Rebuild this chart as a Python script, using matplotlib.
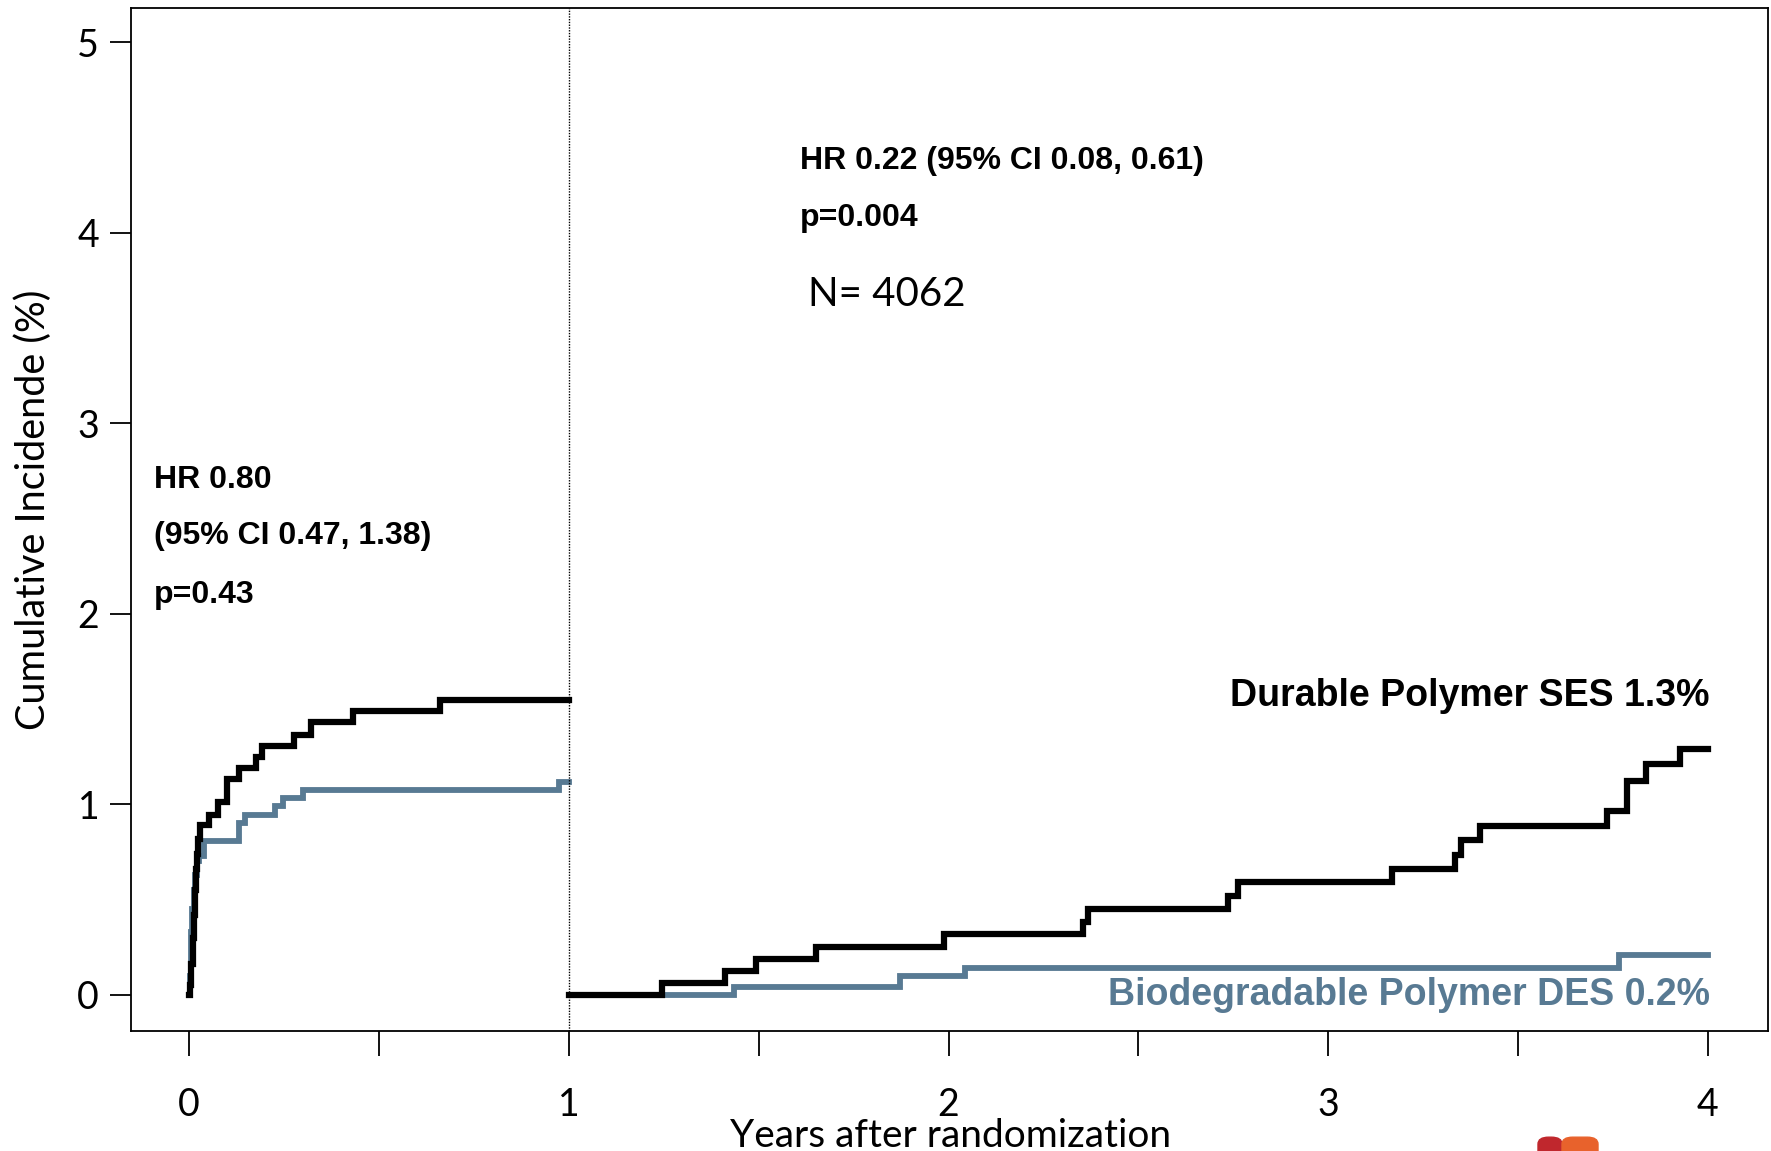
import matplotlib
matplotlib.use("Agg")
import matplotlib.pyplot as plt
from matplotlib.patches import FancyBboxPatch

# durable polymer SES (black) - first year
dp1_t = [0.0, 0.003, 0.006, 0.009, 0.012, 0.015, 0.018, 0.021, 0.024, 0.029,
         0.051, 0.077, 0.099, 0.130, 0.176, 0.193, 0.277, 0.322, 0.431, 0.661, 1.0]
dp1_y = [0.0, 0.05, 0.16, 0.30, 0.42, 0.55, 0.66, 0.74, 0.82, 0.89,
         0.945, 1.01, 1.133, 1.189, 1.246, 1.308, 1.366, 1.430, 1.492, 1.549, 1.549]
# biodegradable polymer DES (blue) - first year
bp1_t = [0.0, 0.001, 0.004, 0.008, 0.012, 0.016, 0.020, 0.026, 0.038,
         0.130, 0.148, 0.227, 0.248, 0.299, 0.975, 1.0]
bp1_y = [0.0, 0.10, 0.33, 0.45, 0.55, 0.63, 0.70, 0.73, 0.809,
         0.90, 0.945, 0.989, 1.033, 1.075, 1.119, 1.119]

# landmark analysis from year 1
dp2_t = [1.0, 1.244, 1.412, 1.493, 1.652, 1.988, 2.355, 2.366, 2.735, 2.762,
         3.169, 3.334, 3.349, 3.400, 3.734, 3.787, 3.836, 3.926, 4.0]
dp2_y = [0.0, 0.061, 0.126, 0.187, 0.252, 0.319, 0.38, 0.45, 0.52, 0.59,
         0.66, 0.735, 0.812, 0.888, 0.966, 1.124, 1.211, 1.290, 1.290]
bp2_t = [1.0, 1.435, 1.872, 2.042, 3.766, 4.0]
bp2_y = [0.0, 0.042, 0.10, 0.143, 0.208, 0.208]

BLUE = "#587a93"

fig = plt.figure(figsize=(17.71, 11.51), dpi=100)
ax = fig.add_axes([0.074, 0.1043, 0.9243, 0.8887])

for t, y in [(bp1_t, bp1_y), (bp2_t, bp2_y)]:
    ax.step(t, y, where="post", color=BLUE, lw=4.2, solid_joinstyle="miter")
for t, y in [(dp1_t, dp1_y), (dp2_t, dp2_y)]:
    ax.step(t, y, where="post", color="black", lw=4.5, solid_joinstyle="miter")

ax.axvline(1, color="black", lw=1.0, ls=(0, (1, 1)))

ax.set_xlim(-0.153, 4.158)
ax.set_ylim(-0.19, 5.18)

ax.set_xticks([0, 1, 2, 3, 4])
ax.set_xticks([0.5, 1.5, 2.5, 3.5], minor=True)
ax.set_yticks([0, 1, 2, 3, 4, 5])
ax.tick_params(axis="x", which="both", length=18, width=1.3, pad=22,
               labelsize=27, direction="out")
ax.tick_params(axis="y", length=15, width=1.3, pad=8, labelsize=27, direction="out")
for lab in ax.get_xticklabels() + ax.get_yticklabels():
    lab.set_family("Lato")
for s in ax.spines.values():
    s.set_linewidth(1.3)

fig.text(0.5365, 0.013, "Years after randomization", ha="center", va="center",
         fontsize=28, family="Lato")
fig.text(0.019, 0.557, "Cumulative Incidende (%)", ha="center", va="center",
         rotation=90, fontsize=28.5, family="Lato")

bold = dict(family="Liberation Sans", fontweight="bold", va="center")
ax.text(1.609, 4.375, "HR 0.22 (95% CI 0.08, 0.61)", fontsize=23, ha="left", **bold)
ax.text(1.609, 4.076, "p=0.004", fontsize=23, ha="left", **bold)
ax.text(1.630, 3.677, "N= 4062", fontsize=29, ha="left", va="center", family="Lato")
ax.text(-0.092, 2.705, "HR 0.80", fontsize=23, ha="left", **bold)
ax.text(-0.092, 2.411, "(95% CI 0.47, 1.38)", fontsize=23, ha="left", **bold)
ax.text(-0.092, 2.10, "p=0.43", fontsize=23, ha="left", **bold)
ax.text(4.005, 1.570, "Durable Polymer SES 1.3%", fontsize=27, ha="right",
        color="black", **bold)
ax.text(4.005, 0.0, "Biodegradable Polymer DES 0.2%", fontsize=27, ha="right",
        color=BLUE, **bold)

# partial logo at the bottom edge
fig.patches.append(FancyBboxPatch((1538 / 1771, -0.01), 24 / 1771, 0.022,
                                  boxstyle="round,pad=0,rounding_size=0.006",
                                  transform=fig.transFigure, color="#c0272d"))
fig.patches.append(FancyBboxPatch((1562 / 1771, -0.01), 36 / 1771, 0.022,
                                  boxstyle="round,pad=0,rounding_size=0.006",
                                  transform=fig.transFigure, color="#e8622c"))

fig.savefig("out.png", dpi=100)
